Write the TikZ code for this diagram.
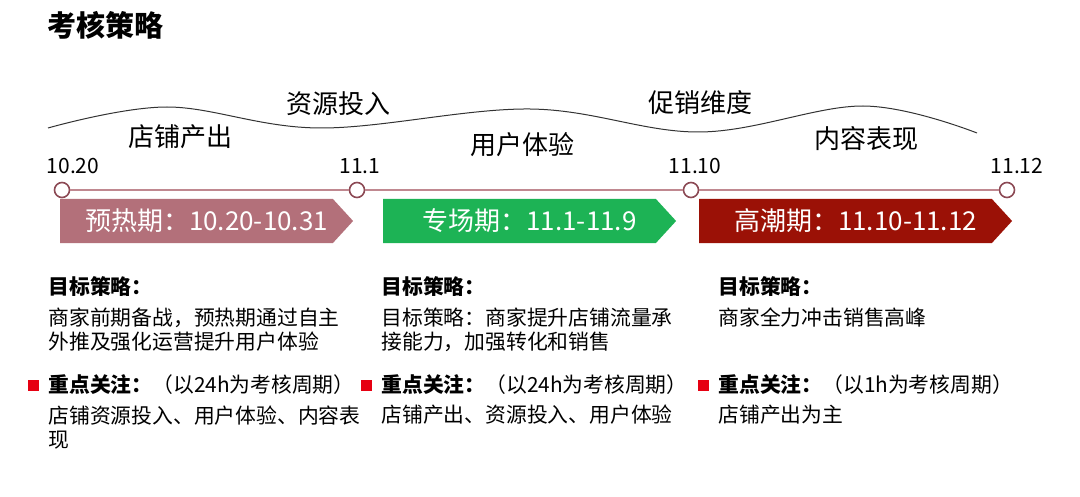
\documentclass[tikz,border=0pt]{standalone}
\usepackage{fontspec}
\setmainfont{Noto Sans CJK SC}
\usetikzlibrary{positioning,shapes.symbols}
\definecolor{warmup}{HTML}{B3707A}
\definecolor{special}{HTML}{1DB355}
\definecolor{peak}{HTML}{9B1106}
\definecolor{track}{HTML}{C08890}
\definecolor{ring}{HTML}{8C4A55}
\definecolor{bullet}{HTML}{E60012}

\begin{document}
\begin{tikzpicture}[x=0.5pt, y=-0.5pt,
  tick/.style={circle, draw=ring, fill=white, line width=0.8pt, minimum size=7.5pt, inner sep=0pt},
  date/.style={inner sep=0pt, font=\fontsize{10.5}{12}\selectfont},
  aspect/.style={inner sep=0pt, font=\fontsize{13}{15}\selectfont},
  phase/.style={signal, signal to=east, signal pointer angle=95, minimum width=146.5pt,
    minimum height=22pt, inner sep=0pt, text=white, font=\fontsize{13}{15}\selectfont},
  head/.style={anchor=west, inner sep=0pt, font=\bfseries\fontsize{10.4}{12}\selectfont},
  body/.style={anchor=west, inner sep=0pt, align=left, font=\fontsize{10.4}{12}\selectfont},
  marker/.style={fill=bullet, minimum size=5.5pt, inner sep=0pt}]
\useasboundingbox (0,0) rectangle (1080,497);

\node[inner sep=0pt, font=\bfseries\fontsize{14.5}{16}\selectfont] (title) at (105,25) {考核策略};

% wave of aspects
\draw[line width=0.5pt, black!80] plot[smooth, tension=0.6] coordinates
  {(48,128) (167,107) (320,128) (530,109) (700,132) (863,106) (977,133)};
\node[aspect] (res) at (338,104) {资源投入};
\node[aspect] (promo) at (700,103) {促销维度};
\node[aspect] (shop) at (180,137) {店铺产出};
\node[aspect] (user) at (522,145) {用户体验};
\node[aspect] (content) at (866,139) {内容表现};

% timeline
\node[tick] (d1) at (62,190) {};
\node[tick] (d2) at (357,190) {};
\node[tick] (d3) at (691,190) {};
\node[tick] (d4) at (1007,190) {};
\draw[track, line width=1pt] (d1) -- (d2) (d2) -- (d3) (d3) -- (d4);
\node[date] (t1) at (73,166) {10.20};
\node[date] (t2) at (360,166) {11.1};
\node[date] (t3) at (695,166) {11.10};
\node[date] (t4) at (1017,166) {11.12};

% phases (kern keeps the text centred on the whole arrow)
\node[phase, fill=warmup] (p1) at (196.5,221) {\kern10pt预热期：10.20-10.31};
\node[phase, fill=special] (p2) at (519.5,221) {\kern10pt专场期：11.1-11.9};
\node[phase, fill=peak, minimum width=156.5pt] (p3) at (845.5,221) {\kern10pt高潮期：11.10-11.12};

% column 1
\node[head] (h1) at (48,287) {目标策略：};
\node[body] (g1) at (48,330) {商家前期备战，预热期通过自主\\外推及强化运营提升用户体验};
\node[body] (f1) at (48,385) {{\bfseries 重点关注：}（以24h为考核周期）};
\node[marker, left=4.5pt of f1] (m1) {};
\node[body] (l1) at (48,427.5) {店铺资源投入、用户体验、内容表\\现};

% column 2
\node[head] (h2) at (381,287) {目标策略：};
\node[body] (g2) at (381,330) {目标策略：商家提升店铺流量承\\接能力，加强转化和销售};
\node[body] (f2) at (381,385) {{\bfseries 重点关注：}（以24h为考核周期）};
\node[marker, left=4.5pt of f2] (m2) {};
\node[body] (l2) at (381,415) {店铺产出、资源投入、用户体验};

% column 3
\node[head] (h3) at (718,287) {目标策略：};
\node[body] (g3) at (718,318) {商家全力冲击销售高峰};
\node[body] (f3) at (718,385) {{\bfseries 重点关注：}（以1h为考核周期）};
\node[marker, left=4.5pt of f3] (m3) {};
\node[body] (l3) at (718,415) {店铺产出为主};
\end{tikzpicture}
\end{document}
